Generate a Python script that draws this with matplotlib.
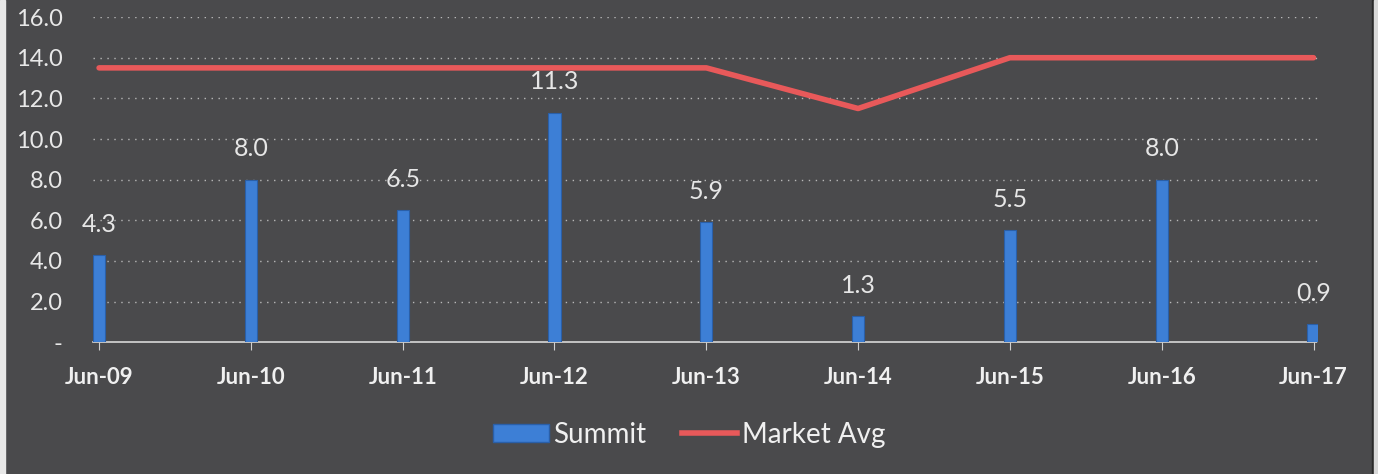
import matplotlib
matplotlib.use("Agg")
import matplotlib.pyplot as plt
from matplotlib.patches import Patch, Rectangle
from matplotlib.lines import Line2D

categories = ["Jun-09", "Jun-10", "Jun-11", "Jun-12", "Jun-13", "Jun-14", "Jun-15", "Jun-16", "Jun-17"]
summit = [4.3, 8.0, 6.5, 11.3, 5.9, 1.3, 5.5, 8.0, 0.9]
market_avg = [13.5, 13.5, 13.5, 13.5, 13.5, 11.5, 14.0, 14.0, 14.0]
yticks = [0, 2, 4, 6, 8, 10, 12, 14, 16]
ytick_labels = ["-", "2.0", "4.0", "6.0", "8.0", "10.0", "12.0", "14.0", "16.0"]

plt.rcParams['font.family'] = ['Lato', 'DejaVu Sans']
bg = "#4a4a4c"
fig = plt.figure(figsize=(13.78, 4.74), dpi=100, facecolor=bg)
# scanned page edges
fig.patches.append(Rectangle((0, 0), 5 / 1378, 1, transform=fig.transFigure, color="#e8e8e8", zorder=0))
fig.patches.append(Rectangle((1372 / 1378, 0), 2 / 1378, 1, transform=fig.transFigure, color="#2a2a2a", zorder=0))
fig.patches.append(Rectangle((1374 / 1378, 0), 4 / 1378, 1, transform=fig.transFigure, color="#d8d8d8", zorder=0))

ax = fig.add_axes([0.0675, 0.278, 0.889, 0.686], facecolor=bg)

x = list(range(len(categories)))
ax.bar(x, summit, width=0.08, color="#3d7fd6", edgecolor="#2a5fa8", linewidth=0.8, zorder=3)
ax.plot(x, market_avg, color="#e8595a", linewidth=4, solid_capstyle="round", zorder=4)

for xi, v in zip(x, summit):
    ax.text(xi, v + 0.95, f"{v:.1f}", ha="center", va="bottom", color="#e6e6e6", fontsize=18)

ax.set_xlim(-0.04, 8.03)
ax.set_ylim(0, 16)
ax.set_yticks(yticks)
ax.set_yticklabels(ytick_labels, color="#e8e8e8", fontsize=17)
ax.set_xticks(x)
ax.set_xticklabels(categories, color="#f0f0f0", fontsize=16, fontweight="bold")
ax.tick_params(axis="y", length=0, pad=22)
ax.tick_params(axis="x", length=6, color="#d0d0d0", pad=12, direction="out")

for yt in yticks[1:]:
    ax.axhline(yt, color="#b8b8b8", linestyle=(0, (1, 4)), linewidth=1, zorder=1)
for s in ["top", "right", "left"]:
    ax.spines[s].set_visible(False)
ax.spines["bottom"].set_color("#d8d8d8")
ax.spines["bottom"].set_linestyle((0, (2, 1)))
ax.spines["bottom"].set_linewidth(1.2)

handles = [Patch(facecolor="#3d7fd6", edgecolor="#2a5fa8", label="Summit"),
           Line2D([0], [0], color="#e8595a", linewidth=4, label="Market Avg")]
leg = fig.legend(handles=handles, loc="center", bbox_to_anchor=(0.5, 0.083), ncol=2, frameon=False,
                 fontsize=20, labelcolor="#f0f0f0", handlelength=2.0, handleheight=0.6,
                 handletextpad=0.15, columnspacing=1.3)

fig.savefig("out.png", dpi=100, facecolor=bg)
